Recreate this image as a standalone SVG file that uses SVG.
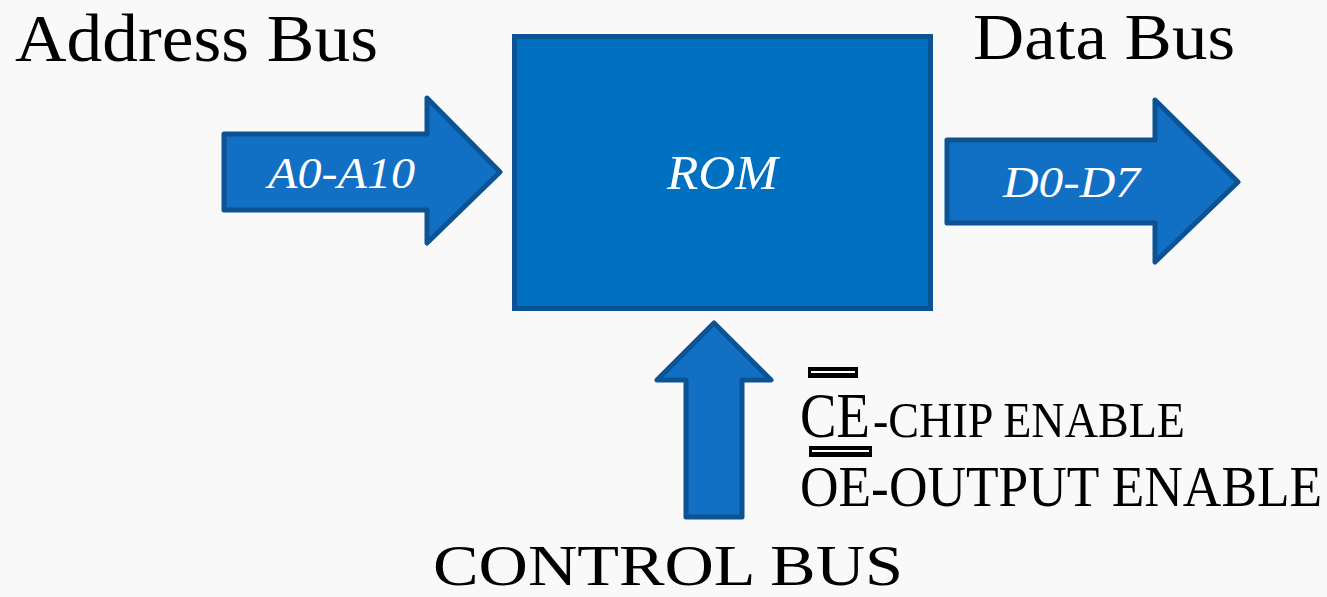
<svg xmlns="http://www.w3.org/2000/svg" width="1327" height="597" viewBox="0 0 1327 597">
<style>
.arrow{fill:#1270c4;stroke:#0c5394;stroke-width:5;stroke-linejoin:round}
.rom{fill:#0070c0;stroke:#0c5394;stroke-width:5}
.lbl{font-family:"Liberation Serif",serif;fill:#000}
.in{font-family:"Liberation Serif",serif;font-style:italic;fill:#fff}
</style>
<rect width="1327" height="597" fill="#f9f9f9"/>
<g id="title-address"><text class="lbl" x="15" y="61" font-size="68" textLength="363" lengthAdjust="spacingAndGlyphs">Address Bus</text></g>
<g id="title-data"><text class="lbl" x="973" y="59" font-size="66" textLength="262" lengthAdjust="spacingAndGlyphs">Data Bus</text></g>
<g id="rom">
<rect class="rom" x="514.5" y="36.5" width="416" height="272"/>
<text class="in" x="667" y="189" font-size="48" textLength="111" lengthAdjust="spacingAndGlyphs">ROM</text>
</g>
<g id="connectors">
<g id="address-arrow">
<polygon class="arrow" points="224,134 427,134 427,98 500,172 427,243 427,210 224,210"/>
<text class="in" x="268" y="188" font-size="44" textLength="147" lengthAdjust="spacingAndGlyphs">A0-A10</text>
</g>
<g id="data-arrow">
<polygon class="arrow" points="947,140 1155,140 1155,100 1238,182 1155,262 1155,223 947,223"/>
<text class="in" x="1003" y="197" font-size="44" textLength="137" lengthAdjust="spacingAndGlyphs">D0-D7</text>
</g>
<g id="control-arrow">
<polygon class="arrow" points="714,323 771,380 742,380 742,517 686,517 686,380 657,380"/>
</g>
</g>
<g id="control-label"><text class="lbl" x="433" y="585" font-size="58" textLength="470" lengthAdjust="spacingAndGlyphs">CONTROL BUS</text></g>
<g id="ce-label">
<rect x="808" y="367" width="50" height="11" fill="#000"/>
<rect x="811" y="371" width="44" height="2" fill="#fff"/>
<text class="lbl" x="800" y="437" font-size="64" textLength="70" lengthAdjust="spacingAndGlyphs">CE</text>
<text class="lbl" x="873" y="437" font-size="50" textLength="312" lengthAdjust="spacingAndGlyphs">-CHIP ENABLE</text>
</g>
<g id="oe-label">
<rect x="809" y="446" width="63" height="11" fill="#000"/>
<rect x="812" y="450" width="57" height="2" fill="#fff"/>
<text class="lbl" transform="translate(800,506) scale(0.953,1)" x="0" y="0" font-size="56">OE-OUTPUT ENABLE</text>
</g>
</svg>
